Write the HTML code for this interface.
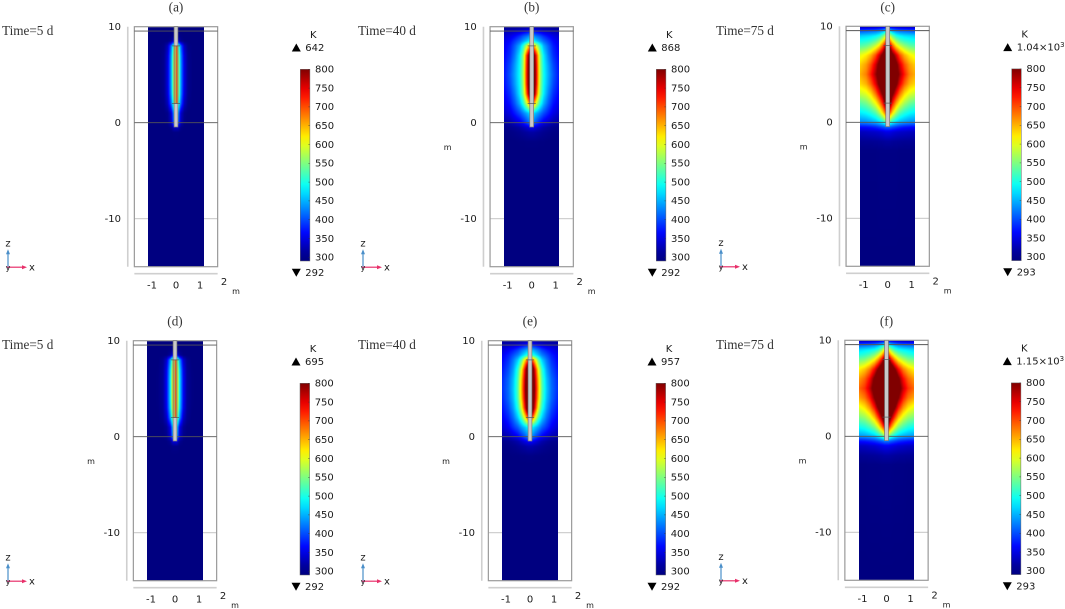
<!DOCTYPE html>
<html lang="en">
<head>
<meta charset="utf-8">
<title>Temperature fields</title>
<style>
html,body{margin:0;padding:0;background:#fff;}
#stage{position:relative;width:1065px;height:609px;overflow:hidden;background:#fff;}
#stage canvas{position:absolute;display:block;}
#overlay{position:absolute;left:0;top:0;}
text{font-family:"DejaVu Sans","Liberation Sans",sans-serif;font-size:10px;fill:#1a1a1a;}
.serif{font-family:"Liberation Serif",serif;font-size:13.2px;fill:#333;}
</style>
</head>
<body>
<div id="stage">
<svg id="overlay" width="1065" height="609" viewBox="0 0 1065 609" xmlns="http://www.w3.org/2000/svg"></svg>
</div>
<script>
// ---- Data ----
const xCoords = [0.08,0.2,0.35,0.5,0.7,0.9,1.15];
const zCoords = [10,9.5,9,8.5,8,7,6,5,4,3,2,1,0,-0.5,-1,-2,-3,-15];
const colorTicks = [300,350,400,450,500,550,600,650,700,750,800];
const zTicks = [10,0,-10];
const xTicks = [-1,0,1];
const panelLetters = ['(a)','(b)','(c)','(d)','(e)','(f)'];
const timeLabels = ['Time=5 d','Time=40 d','Time=75 d','Time=5 d','Time=40 d','Time=75 d'];
const maxLabels = ['642','868','1.04×10|3','695','957','1.15×10|3'];
const minLabels = ['292','292','293','292','292','293'];
const tempA = [
[300,300,300,300,300,300,300],[304,300,300,300,300,300,300],[310,302,300,300,300,300,300],
[345,308,300,300,300,300,300],[550,415,328,304,300,300,300],[590,435,342,307,300,300,300],
[600,440,345,308,300,300,300],[600,440,345,308,300,300,300],[600,440,345,308,300,300,300],
[590,435,342,307,300,300,300],[540,410,328,304,300,300,300],[450,338,305,300,300,300,300],
[430,328,303,300,300,300,300],[335,305,300,300,300,300,300],[302,300,300,300,300,300,300],
[300,300,300,300,300,300,300],[300,300,300,300,300,300,300],[300,300,300,300,300,300,300]];
const tempB = [
[315,312,310,308,307,307,307],[370,360,350,340,335,330,325],[440,420,405,385,365,350,340],
[490,465,440,415,390,365,350],[660,590,510,450,410,375,355],[840,720,560,480,425,385,362],
[870,735,565,488,440,398,367],[880,740,570,492,445,405,370],[870,735,565,488,440,398,367],
[840,700,555,480,425,385,360],[670,590,505,450,405,370,350],[470,450,425,400,375,350,335],
[420,395,370,350,335,322,315],[350,340,328,318,312,307,305],[318,315,312,308,305,303,302],
[302,302,301,301,300,300,300],[300,300,300,300,300,300,300],[300,300,300,300,300,300,300]];
const tempC = [
[335,330,325,322,320,320,320],[480,450,430,420,415,410,405],[590,540,500,485,475,470,465],
[680,610,560,530,510,500,495],[770,690,620,585,555,535,525],[920,820,760,700,650,620,600],
[1000,880,820,760,700,660,635],[1030,900,835,785,725,675,650],[1000,870,815,750,690,650,630],
[950,815,745,685,630,600,585],[830,730,660,610,570,545,530],[700,630,570,530,505,490,480],
[520,490,465,450,440,432,428],[410,400,390,380,372,368,365],[350,345,340,337,335,332,330],
[315,313,312,311,310,310,309],[303,303,303,302,302,302,302],[300,300,300,300,300,300,300]];
const tempD = [
[300,300,300,300,300,300,300],[305,300,300,300,300,300,300],[312,303,300,300,300,300,300],
[355,312,301,300,300,300,300],[580,435,338,308,300,300,300],[625,462,355,311,301,300,300],
[640,470,360,312,302,300,300],[640,470,360,312,302,300,300],[640,470,360,312,302,300,300],
[625,462,355,311,301,300,300],[570,430,336,308,300,300,300],[470,348,310,301,300,300,300],
[445,335,306,300,300,300,300],[345,308,301,300,300,300,300],[304,301,300,300,300,300,300],
[300,300,300,300,300,300,300],[300,300,300,300,300,300,300],[300,300,300,300,300,300,300]];
const tempE = [
[320,315,312,310,308,308,308],[385,375,360,350,340,335,330],[460,440,420,395,375,360,345],
[510,485,455,425,400,375,358],[700,630,530,465,420,385,362],[900,750,610,510,440,400,372],
[935,775,640,525,455,412,382],[950,785,650,530,460,415,385],[935,775,640,525,455,412,380],
[900,745,600,505,440,398,370],[710,620,525,465,415,380,358],[490,465,440,410,385,358,340],
[430,405,380,358,340,325,318],[360,350,335,322,314,308,306],[322,318,314,310,306,304,303],
[303,302,302,301,301,300,300],[300,300,300,300,300,300,300],[300,300,300,300,300,300,300]];
const tempF = [
[340,335,330,325,322,322,322],[500,470,445,430,420,415,410],[620,560,515,495,485,478,470],
[710,640,585,550,525,510,500],[820,730,660,610,575,550,540],[1000,880,800,735,675,640,615],
[1090,950,880,810,735,690,660],[1140,985,900,835,765,715,685],[1090,945,870,800,725,680,655],
[1030,880,805,730,665,625,600],[900,790,710,645,595,565,550],[740,670,600,555,525,505,495],
[550,510,480,460,448,440,435],[420,408,396,386,378,372,368],[355,350,345,340,337,333,332],
[318,316,314,313,312,311,310],[304,304,303,303,303,302,302],[300,300,300,300,300,300,300]];
const fields = [tempA,tempB,tempC,tempD,tempE,tempF];

// ---- Layout ----
const centerX = [176,531.7,887.7,175,530,886.5];
const zeroY = [122.7,122.7,122.3,436.7,436.7,436.3];
const barX = [300.3,656.3,1011.7,300,656,1011.3];
const triadX = [8,363,721,8,363,721];
const timeX = [2,358,716,2,358,716];
const showUnitM = [false,true,true,true,true,true];
const showHotStripe = [true,false,false,true,false,false];
const PX_PER_X = 24;
const PX_PER_Z = 9.6;
const FIELD_HALF = 1.15;
const FRAME_HALF = 1.735;

// ---- Scales ----
function xScale(p,v){return centerX[p]+v*PX_PER_X;}
function zScale(p,v){return zeroY[p]-v*PX_PER_Z;}
function jet(v){
  const t=Math.max(0,Math.min(1,(v-300)/500));
  const c=k=>Math.round(255*Math.max(0,Math.min(1,1.5-Math.abs(4*t-k))));
  return [c(3),c(2),c(1)];
}
function cssJet(v){return 'rgb('+jet(v).join(',')+')';}
function bracket(arr,v,desc){
  let i=0;
  while(i<arr.length-2&&(desc?arr[i+1]>=v:arr[i+1]<=v))i++;
  const f=(v-arr[i])/(arr[i+1]-arr[i]);
  return [i,Math.max(0,Math.min(1,f))];
}
function sampleField(g,ax,z){
  const [r,fr]=bracket(zCoords,z,true);
  const [c,fc]=bracket(xCoords,ax,false);
  const top=g[r][c]*(1-fc)+g[r][c+1]*fc;
  const bot=g[r+1][c]*(1-fc)+g[r+1][c+1]*fc;
  return top*(1-fr)+bot*fr;
}

const svg=document.getElementById('overlay');
const stage=document.getElementById('stage');
const NS='http://www.w3.org/2000/svg';
function mk(tag,attrs,parent){
  const el=document.createElementNS(NS,tag);
  for(const k in attrs)el.setAttribute(k,attrs[k]);
  (parent||svg).appendChild(el);
  return el;
}
function label(str,x,y,anchor,cls,parent){
  const attrs={x:x,y:cls?y:y+0.8,'text-anchor':anchor||'start','dominant-baseline':'central'};
  if(cls)attrs['class']=cls;
  const t=mk('text',attrs,parent);
  t.textContent=str;
  return t;
}

// colour bar gradient
const defs=mk('defs',{});
const grad=mk('linearGradient',{id:'jetGrad',x1:0,y1:1,x2:0,y2:0},defs);
for(let i=0;i<=20;i++){
  mk('stop',{offset:i/20,'stop-color':cssJet(290+(510*i/20))},grad);
}

fields.forEach(function(grid,p){
  // heat field
  const left=Math.round(xScale(p,-FIELD_HALF));
  const right=Math.round(xScale(p,FIELD_HALF));
  const top=Math.round(zScale(p,10));
  const bottom=Math.round(zScale(p,-15));
  const cv=document.createElement('canvas');
  cv.width=right-left;cv.height=bottom-top;
  cv.style.left=left+'px';cv.style.top=top+'px';
  
  
  const ctx=cv.getContext('2d');
  const img=ctx.createImageData(cv.width,cv.height);
  for(let j=0;j<cv.height;j++){
    const z=(zeroY[p]-(top+j+0.5))/PX_PER_Z;
    for(let i=0;i<cv.width;i++){
      const ax=Math.abs((left+i+0.5-centerX[p])/PX_PER_X);
      const col=jet(sampleField(grid,ax,z));
      const o=(j*cv.width+i)*4;
      img.data[o]=col[0];img.data[o+1]=col[1];img.data[o+2]=col[2];img.data[o+3]=255;
    }
  }
  ctx.putImageData(img,0,0);
  stage.insertBefore(cv,svg);

  const g=mk('g',{});
  
  

  const fl=xScale(p,-FRAME_HALF), fr=xScale(p,FRAME_HALF);
  // light z=-10 line on white margins
  const gridL=mk('line',{x1:fl,x2:left,y1:zScale(p,-10),y2:zScale(p,-10),stroke:'#c4c4c4','stroke-width':1},g);
  
  
  const gridR=mk('line',{x1:right,x2:fr,y1:zScale(p,-10),y2:zScale(p,-10),stroke:'#c4c4c4','stroke-width':1},g);
  
  

  // frame
  const frame=mk('rect',{x:fl,y:zScale(p,10),width:fr-fl,height:zScale(p,-15)-zScale(p,10),fill:'none',stroke:'#9a9a9a','stroke-width':1.2},g);
  
  
  // horizontal geometry lines
  [9.55,0].forEach(function(v){
    const l=mk('line',{x1:fl,x2:fr,y1:zScale(p,v),y2:zScale(p,v),stroke:'#555','stroke-width':0.9},g);
    
    
  });
  // well
  const well=mk('rect',{x:xScale(p,-0.08),y:zScale(p,10),width:0.16*PX_PER_X,height:zScale(p,-0.45)-zScale(p,10),fill:'#c9c9c9',stroke:'#777','stroke-width':0.7},g);
  
  
  if(showHotStripe[p]){
    const hot=mk('rect',{x:xScale(p,-0.08),y:zScale(p,8),width:0.16*PX_PER_X,height:zScale(p,2)-zScale(p,8),fill:'#b4a850',stroke:'#777','stroke-width':0.5},g);
    
    
    const st=mk('line',{x1:xScale(p,0.03),x2:xScale(p,0.03),y1:zScale(p,8),y2:zScale(p,2),stroke:'#e8501a','stroke-width':1},g);
    
    
  }
  [8,2].forEach(function(v){
    const l=mk('line',{x1:xScale(p,-0.17),x2:xScale(p,0.17),y1:zScale(p,v),y2:zScale(p,v),stroke:'#555','stroke-width':0.7},g);
    
    
  });

  // axes bars
  const ax1=mk('line',{x1:xScale(p,-2.01),x2:xScale(p,-2.01),y1:zScale(p,10),y2:zScale(p,-15),stroke:'#cfcfcf','stroke-width':1.6},g);
  
  
  const ax2=mk('line',{x1:fl,x2:fr,y1:zScale(p,-15)+7,y2:zScale(p,-15)+7,stroke:'#cfcfcf','stroke-width':1.6},g);
  
  

  zTicks.forEach(function(v){
    const t=label(String(v),centerX[p]-55,zScale(p,v),'end',null,g);
    
    
  });
  xTicks.forEach(function(v){
    const t=label(String(v),xScale(p,v),zeroY[p]+162.3,'middle',null,g);
    
    
  });
  const two=label('2',xScale(p,2),zeroY[p]+158.8,'middle',null,g);
  
  
  const um=label('m',centerX[p]+60,zeroY[p]+168,'middle',null,g);
  
  
  um.style.fontSize='8px';
  if(showUnitM[p]){
    const zm=label('m',centerX[p]-84,zeroY[p]+24,'middle',null,g);
    
    
    zm.style.fontSize='8px';
  }

  // titles
  const title=label(panelLetters[p],centerX[p],zeroY[p]-115.5,'middle','serif',g);
  
  
  const time=label(timeLabels[p],timeX[p],zeroY[p]-92,'start','serif',g);
  
  

  // triad
  const tx=triadX[p], ty=zeroY[p]+144.5;
  const zArrow=mk('line',{x1:tx,x2:tx,y1:ty+1,y2:ty-14,stroke:'#4a8fc9','stroke-width':1.2},g);
  
  
  const zHead=mk('polygon',{points:[tx-2,ty-13,tx+2,ty-13,tx,ty-18].join(' '),fill:'#4a8fc9'},g);
  
  
  const xArrow=mk('line',{x1:tx-1,x2:tx+15,y1:ty,y2:ty,stroke:'#e8306a','stroke-width':1.2},g);
  
  
  const xHead=mk('polygon',{points:[tx+14,ty-2,tx+14,ty+2,tx+19,ty].join(' '),fill:'#e8306a'},g);
  
  
  const tz=label('z',tx,ty-24,'middle',null,g);
  
  
  const tX=label('x',tx+24,ty,'middle',null,g);
  
  
  const tY=label('y',tx,ty,'middle',null,g);
  
  
  tY.style.fontSize='8px';

  // colour bar
  const bx=barX[p], by=zeroY[p]-53.4;
  const bar=mk('rect',{x:bx,y:by,width:9.6,height:191.7,fill:'url(#jetGrad)',stroke:'#666','stroke-width':0.5},g);
  
  
  colorTicks.forEach(function(v){
    const y=by+(800-v)*188/500;
    const tk=mk('line',{x1:bx+8,x2:bx+9.6,y1:y,y2:y,stroke:'#333','stroke-width':0.4},g);
    
    
    const t=label(String(v),bx+14.7,y,'start',null,g);
    
    
  });
  const k=label('K',bx+13,zeroY[p]-88,'middle',null,g);
  
  
  const upY=zeroY[p]-75.2, dnY=zeroY[p]+150;
  const up=mk('polygon',{points:[bx-8.5,upY+4,bx+0.5,upY+4,bx-4,upY-4].join(' '),fill:'#000'},g);
  
  
  const parts=maxLabels[p].split('|');
  const mx=label(parts[0],bx+5,upY,'start',null,g);
  
  
  if(parts[1]){
    const sup=mk('tspan',{dy:-3},mx);
    sup.textContent=parts[1];
    sup.style.fontSize='7px';
  }
  const dn=mk('polygon',{points:[bx-8.5,dnY-4,bx+0.5,dnY-4,bx-4,dnY+4].join(' '),fill:'#000'},g);
  
  
  const mn=label(minLabels[p],bx+5,dnY,'start',null,g);
  
  
});
</script>
</body>
</html>
